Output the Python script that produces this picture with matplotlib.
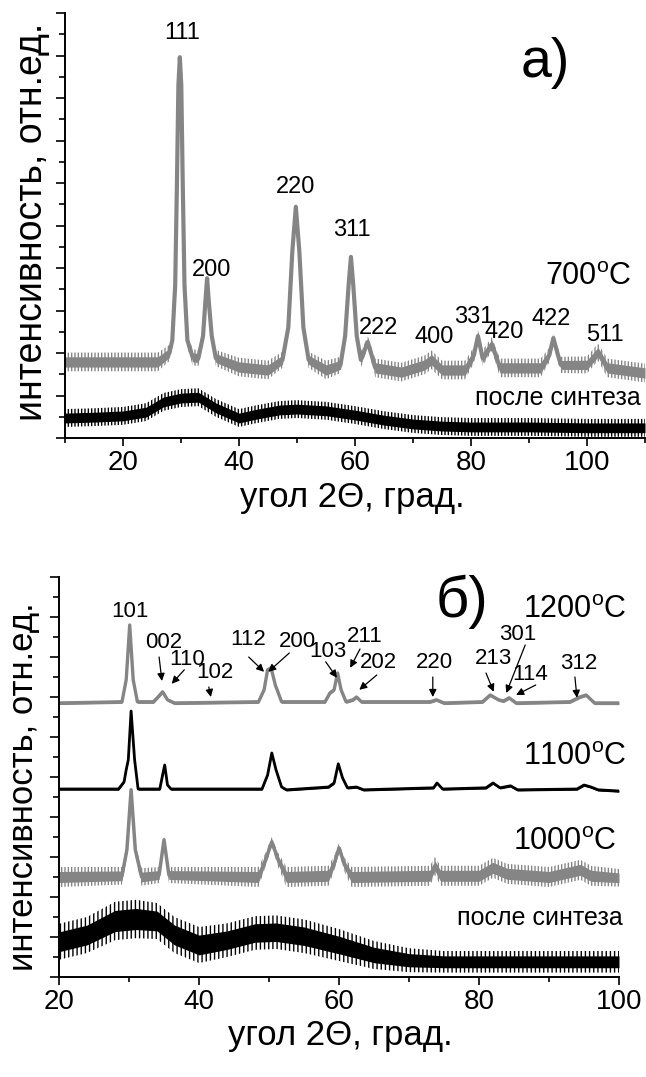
import matplotlib
matplotlib.use("Agg")
import matplotlib.pyplot as plt
import numpy as np
from matplotlib.ticker import MultipleLocator

plt.rcParams['font.family'] = ['Liberation Sans', 'DejaVu Sans']
plt.rcParams['mathtext.fontset'] = 'custom'
plt.rcParams['mathtext.rm'] = 'Liberation Sans'
plt.rcParams['hatch.linewidth'] = 1.0

GRAY = '#858585'

# ---------------- data: panel a) ----------------
a_700_x = [10, 20, 26, 28, 28.5, 29.0, 29.3, 29.55, 29.8, 30.05, 30.3, 30.6, 31.1, 32, 33, 33.8, 34.2, 34.5, 34.8,
           35.3, 36, 40, 45, 47.5, 48.5, 49.2, 49.8, 50.4, 51.1, 52, 55, 57.5, 58.3, 58.9, 59.3, 59.7, 60.3, 61,
           62.2, 63.5, 68, 72, 73.2, 75, 79, 80.5, 81.2, 82, 83.6, 85, 92, 93.5, 94.2, 95, 95.5, 100, 101.9, 103.5,
           110]
a_700_y = [1.79, 1.79, 1.79, 2.0, 2.3, 3.6, 6.0, 8.3, 8.96, 8.3, 6.0, 3.6, 2.3, 1.9, 1.88, 2.4, 3.2, 3.76, 3.2,
           2.4, 1.88, 1.67, 1.60, 1.84, 2.6, 4.4, 5.44, 4.4, 2.6, 1.84, 1.60, 1.72, 2.4, 3.6, 4.26, 3.6, 2.4, 1.84,
           2.26, 1.65, 1.55, 1.72, 1.84, 1.60, 1.60, 1.95, 2.40, 1.88, 2.21, 1.65, 1.65, 1.95, 2.35, 1.95, 1.72,
           1.72, 2.02, 1.65, 1.53]
a_700_noise = [0.22, 0.22, 0.22, 0.19, 0.17, 0.14, 0.1, 0.07, 0.05, 0.07, 0.1, 0.14, 0.17, 0.19, 0.19, 0.16, 0.1,
               0.07, 0.1, 0.16, 0.19, 0.22, 0.22, 0.19, 0.16, 0.1, 0.07, 0.1, 0.16, 0.19, 0.22, 0.19, 0.14, 0.1, 0.07,
               0.1, 0.14, 0.19, 0.14, 0.22, 0.22, 0.22, 0.22, 0.22, 0.22, 0.19, 0.14, 0.19, 0.16, 0.22, 0.22, 0.17,
               0.14, 0.17, 0.19, 0.2, 0.2, 0.22, 0.22]

a_syn_x = [10, 15, 20, 24, 27, 30, 33, 36, 40, 43, 47, 50, 55, 60, 65, 70, 75, 80, 90, 100, 110]
a_syn_y = [0.47, 0.49, 0.52, 0.61, 0.85, 0.94, 0.96, 0.71, 0.47, 0.56, 0.66, 0.68, 0.64, 0.54, 0.42, 0.33,
           0.28, 0.26, 0.26, 0.24, 0.24]
a_syn_noise = [0.21] * len(a_syn_x)

a_hkl = ['111', '200', '220', '311', '222', '400', '331', '420', '422', '511']
a_hkl_x = [30.2, 35.3, 49.7, 59.5, 64.1, 73.6, 80.5, 85.7, 93.8, 103.1]
a_hkl_y = [9.53, 3.95, 5.91, 4.89, 2.59, 2.38, 2.85, 2.49, 2.80, 2.42]

# ---------------- data: panel б) ----------------
b_1200_x = [20, 29, 29.6, 30.1, 30.6, 31.2, 33.5, 34.3, 34.8, 35.5, 36.5, 48.5, 49.3, 49.8, 50.3, 50.9, 51.8,
            58, 58.7, 59.3, 59.8, 60.3, 61, 62, 62.5, 63.2, 73, 73.9, 75, 80.5, 81.6, 82.8, 83.5, 84.3, 85.3,
            93, 94.4, 95.3, 96.5, 100]
b_1200_y = [6.85, 6.88, 7.43, 8.8, 7.43, 6.88, 6.88, 7.03, 7.13, 6.93, 6.85, 6.88, 7.18, 7.68, 7.73, 7.3, 6.88,
            6.88, 7.1, 7.18, 7.6, 7.18, 6.88, 6.93, 7.0, 6.88, 6.88, 6.93, 6.85, 6.88, 7.05, 6.93, 6.9, 6.98, 6.85,
            6.88, 7.0, 7.05, 6.85, 6.85]
b_1200_noise = [0.04] * len(b_1200_x)

b_1100_x = [20, 28.5, 29.3, 29.6, 29.9, 30.3, 30.8, 31.3, 34.4, 34.8, 35.1, 35.5, 36, 49, 49.8, 50.4, 51, 51.8,
            52.5, 58.5, 59.3, 59.9, 60.5, 61.2, 62.5, 63.5, 73.5, 74, 74.8, 81, 82, 83, 84.5, 85.5, 94, 95, 96,
            97, 100]
b_1100_y = [4.7, 4.7, 4.88, 5.18, 5.43, 6.65, 5.43, 4.7, 4.7, 5.05, 5.3, 4.8, 4.7, 4.7, 5.05, 5.6, 5.18, 4.75,
            4.68, 4.75, 4.85, 5.33, 4.98, 4.73, 4.75, 4.68, 4.73, 4.85, 4.7, 4.73, 4.85, 4.73, 4.78, 4.68, 4.7, 4.8,
            4.75, 4.68, 4.65]
b_1100_noise = [0.03] * len(b_1100_x)

b_1000_x = [20, 29, 29.7, 30.3, 30.9, 31.8, 34.3, 35, 35.7, 48.5, 49.5, 50.4, 51.3, 52.5, 58.5, 59.4, 60, 60.8,
            61.8, 73, 73.7, 74.5, 80, 82, 84, 90, 94.5, 96, 100]
b_1000_y = [2.5, 2.53, 3.18, 4.68, 3.18, 2.5, 2.55, 3.43, 2.55, 2.5, 2.93, 3.38, 2.93, 2.5, 2.53, 2.88, 3.23, 2.8,
            2.5, 2.53, 2.78, 2.53, 2.53, 2.73, 2.58, 2.5, 2.68, 2.53, 2.48]
b_1000_noise = [0.25, 0.22, 0.15, 0.08, 0.15, 0.22, 0.2, 0.1, 0.2, 0.25, 0.18, 0.12, 0.18, 0.25, 0.25, 0.18, 0.12,
                0.18, 0.25, 0.25, 0.22, 0.25, 0.25, 0.25, 0.25, 0.25, 0.25, 0.25, 0.22]

b_syn_x = [20, 24, 28, 31, 34, 36.5, 40, 44, 48, 51, 55, 60, 65, 70, 75, 80, 90, 100]
b_syn_y = [0.88, 1.05, 1.4, 1.45, 1.4, 1.05, 0.8, 0.92, 1.1, 1.12, 1.02, 0.8, 0.55, 0.42, 0.38, 0.38, 0.38, 0.38]
b_syn_noise = [0.45, 0.45, 0.48, 0.48, 0.45, 0.45, 0.45, 0.42, 0.42, 0.42, 0.42, 0.4, 0.35, 0.3, 0.27, 0.27, 0.27, 0.27]

b_hkl = ['101', '002', '110', '102', '112', '200', '103', '211', '202', '220', '213', '301', '114', '312']
b_hkl_x = [30.1, 34.9, 38.3, 42.3, 47.0, 54.0, 58.4, 63.7, 65.6, 73.7, 82.0, 85.6, 87.3, 94.3]
b_hkl_y = [9.13, 8.35, 7.93, 7.6, 8.43, 8.38, 8.13, 8.5, 7.85, 7.85, 7.95, 8.55, 7.55, 7.83]
# arrows: (tail x, tail y, head x, head y); None for no arrow
b_arrows = [None,
            (34.3, 8.0, 34.7, 7.4),
            (37.9, 7.68, 36.1, 7.33),
            (41.4, 7.25, 41.7, 7.0),
            (47.1, 8.0, 49.3, 7.63),
            (52.9, 8.1, 49.9, 7.63),
            (58.1, 7.88, 59.7, 7.48),
            (63.0, 8.2, 61.6, 7.73),
            (65.4, 7.55, 62.9, 7.18),
            (73.4, 7.5, 73.4, 7.0),
            (81.0, 7.6, 82.1, 7.13),
            (86.6, 8.3, 83.9, 7.1),
            (88.1, 7.3, 85.3, 7.05),
            (93.7, 7.5, 94.0, 6.98)]

# ---------------- figure ----------------
fig = plt.figure(figsize=(6.46, 10.77), dpi=100)
axA = fig.add_axes([65 / 646, 1 - 438 / 1077, (645 - 65) / 646, (438 - 13) / 1077])
axB = fig.add_axes([59 / 646, 1 - 977 / 1077, (619 - 59) / 646, (977 - 577) / 1077])


def band(ax, x, y, n, color, lw, hatch=None):
    x = np.asarray(x, float)
    y = np.asarray(y, float)
    n = np.asarray(n, float)
    if hatch:
        # noisy fringe drawn as fine vertical hatching, solid core inside
        ax.fill_between(x, y - n, y + n, facecolor='none', edgecolor=color, hatch=hatch, lw=0)
        ax.fill_between(x, y - 0.55 * n, y + 0.55 * n, color=color, lw=0)
    else:
        ax.fill_between(x, y - n, y + n, color=color, lw=0)
    ax.plot(x, y, color=color, lw=lw, solid_joinstyle='round')


band(axA, a_syn_x, a_syn_y, a_syn_noise, 'black', 1.5, hatch='|||||')
band(axA, a_700_x, a_700_y, a_700_noise, GRAY, 3.0, hatch='|||||')

band(axB, b_syn_x, b_syn_y, b_syn_noise, 'black', 1.5, hatch='||||')
band(axB, b_1000_x, b_1000_y, b_1000_noise, GRAY, 2.5, hatch='|||||')
band(axB, b_1100_x, b_1100_y, b_1100_noise, 'black', 2.0)
band(axB, b_1200_x, b_1200_y, b_1200_noise, GRAY, 2.4)

for ax, xl, in ((axA, (10, 110)), (axB, (20, 100))):
    ax.set_xlim(*xl)
    ax.set_ylim(0, 10)
    ax.spines['top'].set_visible(False)
    ax.spines['right'].set_visible(False)
    for s in ('left', 'bottom'):
        ax.spines[s].set_linewidth(1.4)
    ax.xaxis.set_major_locator(MultipleLocator(20))
    ax.xaxis.set_minor_locator(MultipleLocator(10))
    ax.yaxis.set_major_locator(MultipleLocator(1))
    ax.yaxis.set_minor_locator(MultipleLocator(0.5))
    ax.tick_params(axis='x', which='major', direction='out', length=5.5, width=1.2, labelsize=20, pad=3)
    ax.tick_params(axis='x', which='minor', direction='out', length=3.5, width=1.2)
    ax.tick_params(axis='y', which='major', direction='out', length=6.5, width=1.2, labelleft=False)
    ax.tick_params(axis='y', which='minor', direction='out', length=4, width=1.2)
    ax.set_facecolor('none')

axA.set_xticks([20, 40, 60, 80, 100])
axA.set_xticks([10, 30, 50, 70, 90, 110], minor=True)

# labels panel a
for t, x, y in zip(a_hkl, a_hkl_x, a_hkl_y):
    axA.text(x, y, t, ha='center', va='center', fontsize=17)
axA.text(100.2, 3.79, '700$^{\\rm o}$C', ha='center', va='center', fontsize=22)
axA.text(95.0, 0.94, 'после синтеза', ha='center', va='center', fontsize=18)
axA.text(92.8, 8.82, 'а)', ha='center', va='center', fontsize=40)

# labels panel б
for t, x, y, ar in zip(b_hkl, b_hkl_x, b_hkl_y, b_arrows):
    axB.text(x, y, t, ha='center', va='center', fontsize=16)
    if ar is not None:
        axB.annotate('', xy=(ar[2], ar[3]), xytext=(ar[0], ar[1]),
                     arrowprops=dict(arrowstyle='-|>', lw=0.9, color='black',
                                     mutation_scale=11, shrinkA=0, shrinkB=0))
axB.text(93.7, 9.18, '1200$^{\\rm o}$C', ha='center', va='center', fontsize=22)
axB.text(93.7, 5.5, '1100$^{\\rm o}$C', ha='center', va='center', fontsize=22)
axB.text(92.3, 3.38, '1000$^{\\rm o}$C', ha='center', va='center', fontsize=22)
axB.text(88.7, 1.48, 'после синтеза', ha='center', va='center', fontsize=18)
axB.text(77.6, 9.38, 'б)', ha='center', va='center', fontsize=42)

# axis titles
fig.text(352 / 646, 1 - 498 / 1077, 'угол 2Θ, град.', ha='center', va='center', fontsize=25)
fig.text(340 / 646, 1 - 1036 / 1077, 'угол 2Θ, град.', ha='center', va='center', fontsize=25)
fig.text(32 / 646, 1 - 222 / 1077, 'интенсивность, отн.ед.', ha='center', va='center', fontsize=27, rotation=90)
fig.text(24 / 646, 1 - 787 / 1077, 'интенсивность, отн.ед.', ha='center', va='center', fontsize=25, rotation=90)

fig.savefig('out.png', dpi=100, facecolor='white')
